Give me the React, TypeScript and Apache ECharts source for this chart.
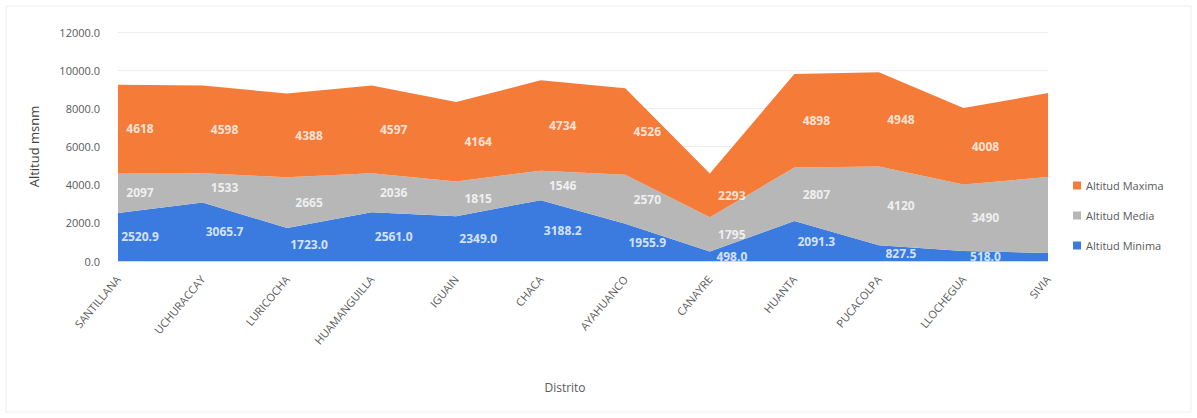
import React, { useEffect, useRef } from "react";
import * as echarts from "echarts";

const categories = [
  "SANTILLANA", "UCHURACCAY", "LURICOCHA", "HUAMANGUILLA", "IGUAIN", "CHACA",
  "AYAHUANCO", "CANAYRE", "HUANTA", "PUCACOLPA", "LLOCHEGUA", "SIVIA",
];
const altMinima = [2520.9, 3065.7, 1723.0, 2561.0, 2349.0, 3188.2, 1955.9, 498.0, 2091.3, 827.5, 518.0, 420.0];
const altMedia = [2097, 1533, 2665, 2036, 1815, 1546, 2570, 1795, 2807, 4120, 3490, 3980];
const altMaxima = [4618, 4598, 4388, 4597, 4164, 4734, 4526, 2293, 4898, 4948, 4008, 4400];
const minimaLabels = ["2520.9", "3065.7", "1723.0", "2561.0", "2349.0", "3188.2", "1955.9", "498.0", "2091.3", "827.5", "518.0"];
const yTicks = [0, 2000, 4000, 6000, 8000, 10000, 12000];

const COLORS = { max: "#F47C38", med: "#B7B7B7", min: "#3B7BE0" };

export default function App() {
  const ref = useRef<HTMLDivElement>(null);
  useEffect(() => {
    if (!ref.current) return;
    const chart = echarts.init(ref.current, undefined, { renderer: "svg" });
    const labelCount = minimaLabels.length;
    const midMin = altMinima.slice(0, labelCount).map((v, i) => [i, v / 2]);
    const midMed = altMedia.slice(0, labelCount).map((v, i) => [i, altMinima[i] + v / 2]);
    const midMax = altMaxima.slice(0, labelCount).map((v, i) => [i, altMinima[i] + altMedia[i] + v / 2]);
    const labelStyle = {
      show: true,
      position: "inside" as const,
      offset: [22, 0],
      color: "#ffffff",
      fontWeight: "bold" as const,
      fontSize: 12,
      fontFamily: "Open Sans, sans-serif",
    };
    const areaSeries = (name: string, data: number[], color: string) => ({
      name,
      type: "line" as const,
      stack: "total",
      data,
      showSymbol: false,
      symbol: "none",
      lineStyle: { width: 0 },
      itemStyle: { color },
      areaStyle: { color, opacity: 1 },
      z: 2,
    });
    const labelSeries = (pts: number[][], fmt: (i: number) => string) => ({
      type: "scatter" as const,
      data: pts,
      symbolSize: 0,
      silent: true,
      z: 5,
      label: { ...labelStyle, formatter: (p: any) => fmt(p.dataIndex) },
    });
    chart.setOption({
      animation: false,
      backgroundColor: "#ffffff",
      grid: { left: 118, right: 149, top: 32, bottom: 157 },
      legend: {
        orient: "vertical",
        left: 1068,
        top: 175,
        itemGap: 19,
        itemWidth: 8,
        itemHeight: 8,
        icon: "rect",
        data: ["Altitud Maxima", "Altitud Media", "Altitud Minima"],
        textStyle: { color: "#595959", fontSize: 11, fontFamily: "Open Sans, sans-serif" },
      },
      xAxis: {
        type: "category",
        data: categories,
        boundaryGap: false,
        name: "Distrito",
        nameLocation: "middle",
        nameGap: 120,
        nameTextStyle: { color: "#595959", fontSize: 12, fontFamily: "Open Sans, sans-serif", padding: [0, 36, 0, 0] },
        axisLine: { show: true, lineStyle: { color: "#d9d9d9" } },
        axisTick: { show: false },
        axisLabel: {
          rotate: 50,
          margin: 16,
          interval: 0,
          color: "#595959",
          fontSize: 11,
          fontFamily: "Open Sans, sans-serif",
        },
      },
      yAxis: {
        type: "value",
        min: yTicks[0],
        max: yTicks[yTicks.length - 1],
        interval: yTicks[1] - yTicks[0],
        name: "Altitud msnm",
        nameLocation: "middle",
        nameGap: 78,
        nameTextStyle: { color: "#404040", fontSize: 13, fontFamily: "Open Sans, sans-serif" },
        axisLine: { show: false },
        axisTick: { show: false },
        axisLabel: {
          margin: 18,
          color: "#595959",
          fontSize: 11,
          fontFamily: "Open Sans, sans-serif",
          formatter: (v: number) => v.toFixed(1),
        },
        splitLine: { lineStyle: { color: "#ececec" } },
      },
      series: [
        areaSeries("Altitud Minima", altMinima, COLORS.min),
        areaSeries("Altitud Media", altMedia, COLORS.med),
        areaSeries("Altitud Maxima", altMaxima, COLORS.max),
        labelSeries(midMin, (i) => minimaLabels[i]),
        labelSeries(midMed, (i) => String(altMedia[i])),
        labelSeries(midMax, (i) => String(altMaxima[i])),
      ],
      graphic: [
        {
          type: "rect",
          shape: { x: 6, y: 6, width: 1185, height: 406 },
          style: { fill: "none", stroke: "#eeeeee", lineWidth: 1 },
          silent: true,
        },
      ],
    });
    return () => chart.dispose();
  }, []);
  return (
    <div
      ref={ref}
      style={{ position: "fixed", left: 0, top: 0, width: 1197, height: 418 }}
    />
  );
}
